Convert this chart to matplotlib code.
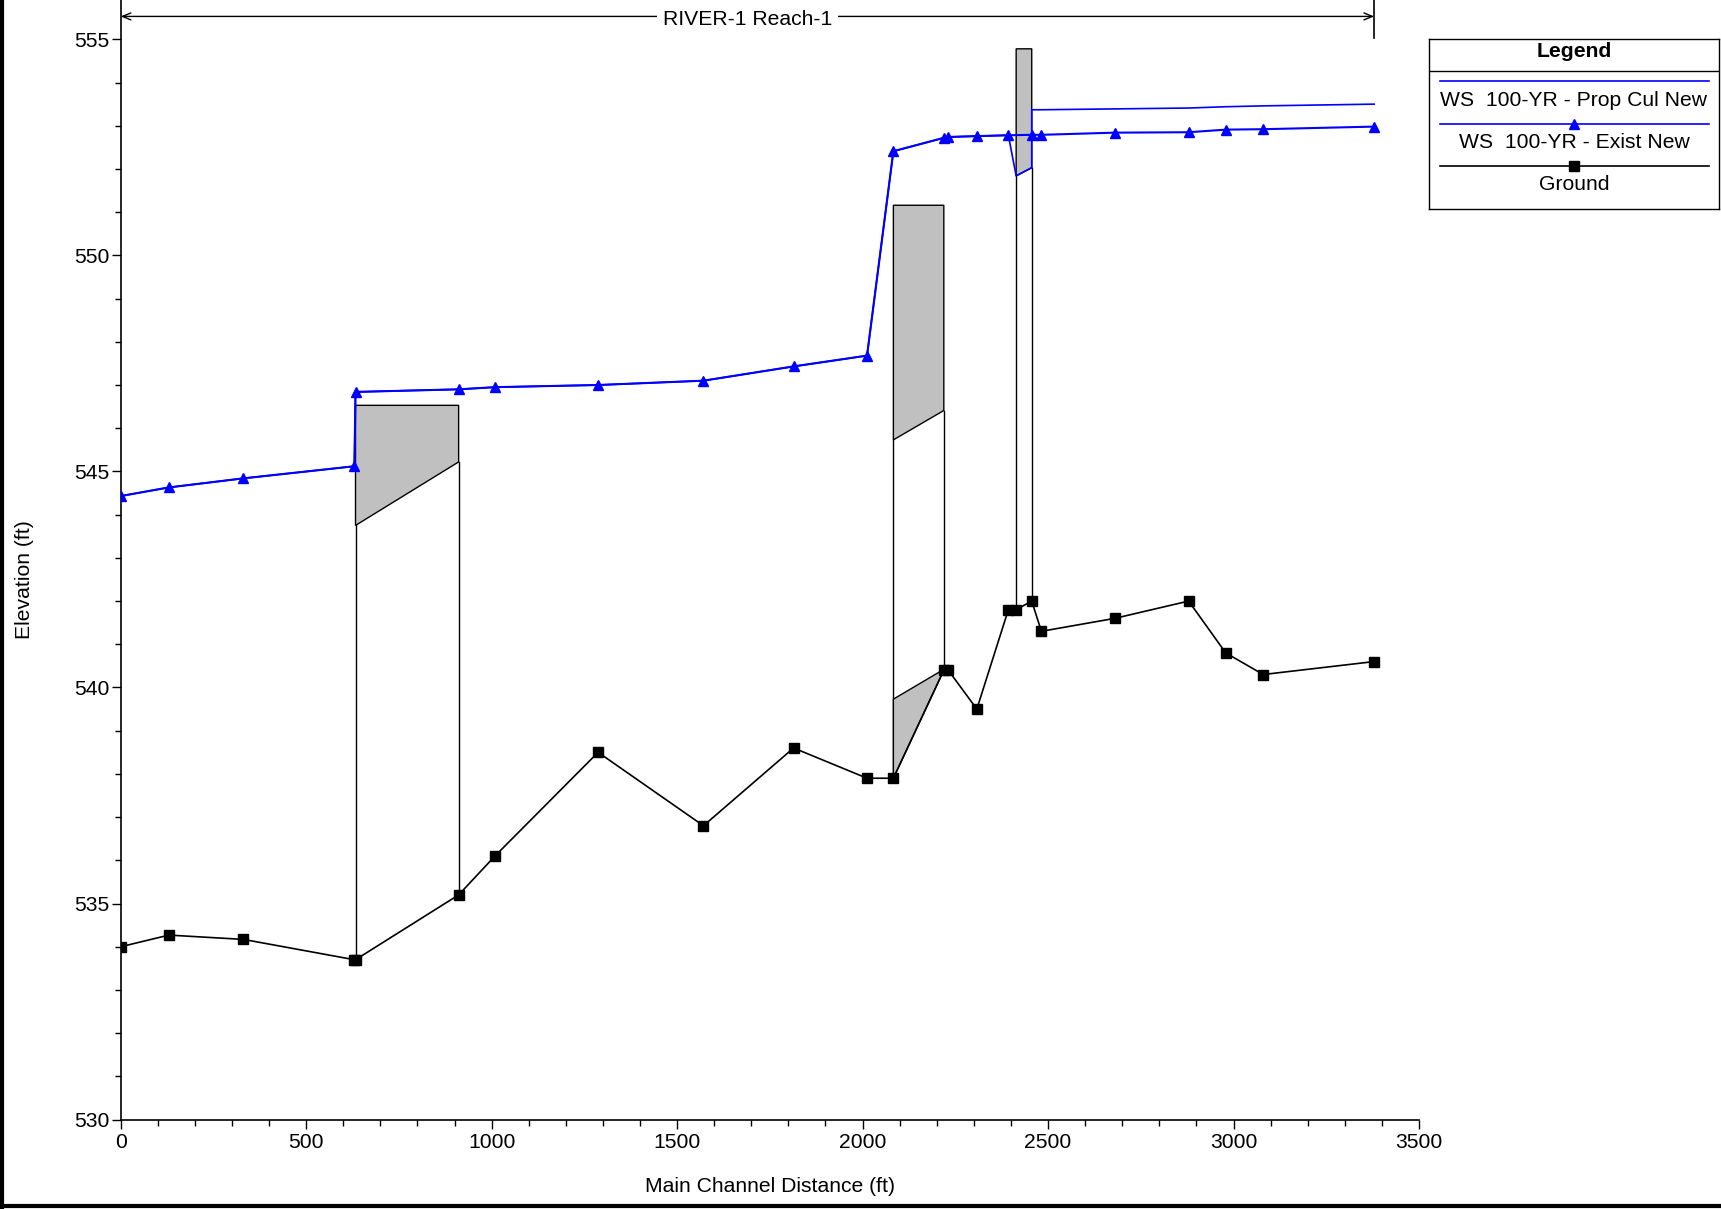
import numpy as np
import matplotlib
matplotlib.use("Agg")
import matplotlib.pyplot as plt
from matplotlib.lines import Line2D

plt.rcParams['font.family'] = ['Liberation Sans', 'DejaVu Sans']

# river stations (main channel distance, ft) and ground elevations
sta_ground = [0, 130, 331, 630, 633, 911, 1009, 1287, 1571, 1814, 2012, 2083,
              2219, 2231, 2308, 2393, 2414, 2456, 2482, 2680, 2879, 2979, 3080, 3379]
ground = [534.0, 534.27, 534.17, 533.7, 533.7, 535.2, 536.1, 538.5, 536.8, 538.6,
          537.9, 537.9, 540.4, 540.4, 539.5, 541.8, 541.8, 542.0, 541.3, 541.6,
          542.0, 540.8, 540.3, 540.6]

# water surface, existing
sta_exist = [0, 130, 331, 630, 633, 911, 1009, 1287, 1571, 1814, 2012, 2083,
             2219, 2231, 2308, 2393, 2456, 2482, 2680, 2879, 2979, 3080, 3379]
ws_exist = [544.43, 544.63, 544.84, 545.12, 546.84, 546.90, 546.95, 547.00,
            547.10, 547.43, 547.68, 552.41, 552.72, 552.74, 552.76, 552.78,
            552.79, 552.79, 552.84, 552.85, 552.91, 552.92, 552.98]

# water surface, proposed culvert
sta_prop = [0, 130, 331, 630, 633, 911, 1009, 1287, 1571, 1814, 2012, 2083,
            2219, 2231, 2308, 2393, 2414, 2456, 2456, 2482, 2680, 2879, 2979,
            3080, 3379]
ws_prop = [544.43, 544.63, 544.84, 545.12, 546.84, 546.90, 546.95, 547.00,
           547.10, 547.43, 547.68, 552.41, 552.72, 552.74, 552.76, 552.78,
           551.84, 552.03, 553.37, 553.37, 553.39, 553.41, 553.44, 553.46, 553.50]

# structures: upstream/downstream station, deck top, low chord (crown) at each end
struct_sta = [(633, 911), (2083, 2219), (2414, 2456)]
struct_top = [546.53, 551.16, 554.78]
struct_low = [(543.75, 545.22), (545.73, 546.41), (551.84, 552.03)]
# culvert invert fill (second culvert only)
invert_sta = (2083, 2219)
invert_elev = (539.73, 540.42)

reach_name = "RIVER-1 Reach-1"
reach_end = 3379

FS = 15.2
W, H = 1721, 1209
fig = plt.figure(figsize=(W / 100, H / 100), dpi=100)
ax = fig.add_axes([120.7 / W, 1 - 1119.6 / H, (1419 - 120.7) / W, 1119.6 / H])
ax.set_xlim(0, 3500)
ax.set_ylim(530, 555.91)

gray = '#c0c0c0'


def gnd(x):
    return np.interp(x, sta_ground, ground)


for (xl, xr), top, (lo_l, lo_r) in zip(struct_sta, struct_top, struct_low):
    ax.fill([xl, xr, xr, xl], [top, top, lo_r, lo_l], facecolor=gray,
            edgecolor='black', lw=1.0, zorder=2)
    ax.plot([xl, xl], [lo_l, gnd(xl)], color='black', lw=1.0, zorder=2)
    ax.plot([xr, xr], [lo_r, gnd(xr)], color='black', lw=1.0, zorder=2)

xl, xr = invert_sta
ax.fill([xl, xr, xr, xl], [invert_elev[0], invert_elev[1], gnd(xr), gnd(xl)],
        facecolor=gray, edgecolor='black', lw=1.0, zorder=2)

ax.plot(sta_ground, ground, color='black', lw=1.2, marker='s', ms=7,
        mfc='black', mec='black', zorder=4)
ax.plot(sta_prop, ws_prop, color='blue', lw=1.2, zorder=3)
ax.plot(sta_exist, ws_exist, color='blue', lw=1.5, marker='^', ms=7,
        mfc='blue', mec='blue', zorder=5)

# reach arrow along the top
ax.annotate('', xy=(0, 555.53), xytext=(reach_end, 555.53),
            arrowprops=dict(arrowstyle='<->,head_length=0.6,head_width=0.25',
                            color='black', lw=1.0, shrinkA=0, shrinkB=0),
            annotation_clip=False)
ax.text(reach_end / 2, 555.47, reach_name, ha='center', va='center', fontsize=FS,
        bbox=dict(facecolor='white', edgecolor='none', pad=4))
ax.plot([reach_end, reach_end], [555.03, 555.91], color='black', lw=1.2,
        clip_on=False)

ax.spines['top'].set_visible(False)
ax.spines['right'].set_visible(False)
ax.spines['left'].set_linewidth(1.2)
ax.spines['bottom'].set_linewidth(1.2)
ax.set_xticks(np.arange(0, 3501, 500))
ax.set_xticks(np.arange(0, 3501, 100), minor=True)
ax.set_yticks(np.arange(530, 556, 5))
ax.set_yticks(np.arange(530, 556, 1), minor=True)
ax.tick_params(which='major', direction='out', length=6.5, width=1, labelsize=FS)
ax.tick_params(which='minor', direction='out', length=4, width=1)
ax.tick_params(axis='x', which='major', pad=3)
ax.tick_params(axis='y', which='major', pad=1.5)
ax.set_xlabel('Main Channel Distance (ft)', fontsize=FS, labelpad=18.5)
ax.set_ylabel('Elevation (ft)', fontsize=FS)
ax.yaxis.set_label_coords(-0.0668, 0.482)

# legend box drawn by hand: line sample above each label
lg = fig.add_axes([1429 / W, 1 - 208.5 / H, 290 / W, 170 / H])
lg.set_xlim(0, 290)
lg.set_ylim(170, 0)
lg.set_xticks([])
lg.set_yticks([])
for s in lg.spines.values():
    s.set_linewidth(1.0)
lg.text(145, 13, 'Legend', ha='center', va='center', fontsize=FS,
        fontweight='bold')
lg.plot([0, 290], [32, 32], color='black', lw=1.0)
entries = [('WS  100-YR - Prop Cul New', 'blue', None, 42, 62),
           ('WS  100-YR - Exist New', 'blue', '^', 85, 103.5),
           ('Ground', 'black', 's', 127.5, 146.5)]
for label, c, m, ly, ty in entries:
    lg.plot([11, 280], [ly, ly], color=c, lw=1.2)
    if m:
        lg.plot([145], [ly], marker=m, ms=7, color=c, mec=c)
    lg.text(145, ty, label, ha='center', va='center', fontsize=FS)

# frame around the figure
fig.add_artist(Line2D([2 / W, 2 / W], [0, 1], color='black', lw=3,
                      transform=fig.transFigure))
fig.add_artist(Line2D([0, 1], [3 / H, 3 / H], color='black', lw=3,
                      transform=fig.transFigure))

fig.savefig('out.png', dpi=100)
